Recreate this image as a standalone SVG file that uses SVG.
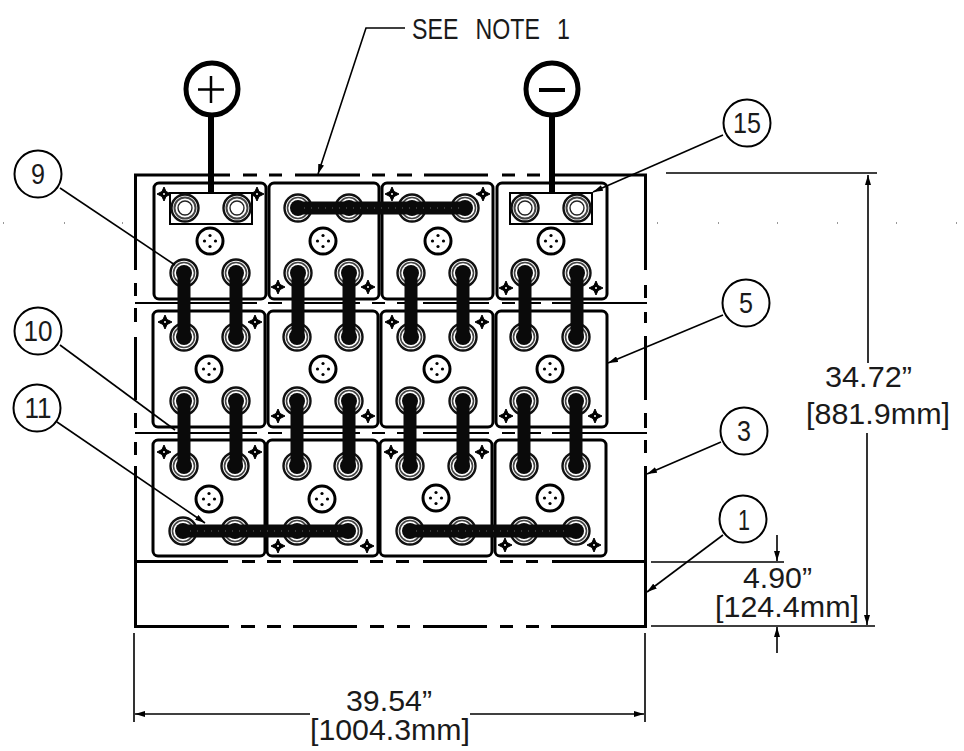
<svg xmlns="http://www.w3.org/2000/svg" xmlns:xlink="http://www.w3.org/1999/xlink" width="964" height="751" viewBox="0 0 964 751">
<style>
text{font-family:"Liberation Sans",Arial,sans-serif;fill:#1a1a1a;font-size:30px}
.n{text-anchor:middle;font-size:29px}
.frame{fill:none;stroke:#000;stroke-width:3}
.row{fill:none;stroke:#000;stroke-width:2}
.cell{fill:none;stroke:#000;stroke-width:3}
.lug{fill:#fff;stroke:#000;stroke-width:2}
.bar{fill:none;stroke:#0a0a0a;stroke-width:13;stroke-linecap:round}
.spk{fill:none;stroke:#666;stroke-width:1;stroke-dasharray:1 6}
.stem{stroke:#000;stroke-width:6;fill:none}
.ld{fill:none;stroke:#000;stroke-width:1.6}
.dim{fill:none;stroke:#000;stroke-width:1.6}
.bub{fill:#fff;stroke:#000;stroke-width:2}
.pole{fill:#fff;stroke:#000;stroke-width:5}
</style>
<defs>
<marker id="ah" viewBox="0 0 10 6" refX="10" refY="3" markerWidth="10" markerHeight="6" markerUnits="userSpaceOnUse" orient="auto-start-reverse"><path d="M0 0L10 3L0 6Z" fill="#000"/></marker>
<g id="term"><circle r="13.500" fill="#fff" stroke="#111" stroke-width="2.400"/><circle r="10.500" fill="none" stroke="#444" stroke-width="1.600"/><circle r="8" fill="#0a0a0a"/></g>
<g id="lugt"><circle r="13.500" fill="#fff" stroke="#111" stroke-width="2.400"/><circle r="10.500" fill="none" stroke="#444" stroke-width="2"/><circle r="7" fill="#fff" stroke="#222" stroke-width="1.400"/></g>
<g id="cap"><circle r="13" fill="#fff" stroke="#000" stroke-width="3"/><circle cx="0" cy="-5.500" r="1.600"/><circle cx="0" cy="5.500" r="1.600"/><circle cx="-5.500" cy="0" r="1.600"/><circle cx="5.500" cy="0" r="1.600"/></g>
<g id="st"><path d="M0-7L2-2.500L7 0L2 2.500L0 7L-2 2.500L-7 0L-2-2.500Z" fill="#000" stroke="#000" stroke-width="1"/><circle r="1" fill="#fff"/></g>
</defs>
<g id="frame">
<path class="frame" d="M135.500 270V175H230M243 175H257M269 175H282M295 175H360M372 175H385M397 175H412M424 175H488M502 175H515M527 175H540M553 175H645.500V270M645.500 285V298M645.500 312V323M645.500 336V400M645.500 413V428M645.500 440V453M645.500 466V626.500H551M539 626.500H526M513 626.500H500M487 626.500H423M410 626.500H397M384 626.500H370M357 626.500H293M281 626.500H267M255 626.500H241M229 626.500H135.500V466M135.500 455V442M135.500 428V413M135.500 400V337M135.500 322V308M135.500 296V283"/>
<path class="frame" d="M135 561.500H228M242 561.500H255M267 561.500H281M293 561.500H358M370 561.500H383M396 561.500H409M423 561.500H487M500 561.500H513M526 561.500H538M552 561.500H646"/>
<path class="row" d="M135 303H257M268 303H282M295 303H360M372 303H385M397 303H412M423 303H489M502 303H515M527 303H541M552 303H647"/>
<path class="row" d="M135 433H257M268 433H282M295 433H360M372 433H385M397 433H412M423 433H489M502 433H515M527 433H541M552 433H647"/>
</g>
<g id="cells">
<rect class="cell" x="154" y="183" width="112" height="116" rx="5"/>
<rect class="cell" x="269" y="183" width="110" height="116" rx="5"/>
<rect class="cell" x="382" y="183" width="111" height="116" rx="5"/>
<rect class="cell" x="497" y="183" width="110" height="116" rx="5"/>
<rect class="cell" x="153" y="311" width="112" height="116" rx="5"/>
<rect class="cell" x="268" y="311" width="110" height="116" rx="5"/>
<rect class="cell" x="381" y="311" width="112" height="116" rx="5"/>
<rect class="cell" x="496" y="311" width="111" height="116" rx="5"/>
<rect class="cell" x="153" y="440" width="112" height="116" rx="5"/>
<rect class="cell" x="267" y="440" width="111" height="116" rx="5"/>
<rect class="cell" x="380" y="440" width="112" height="116" rx="5"/>
<rect class="cell" x="495" y="440" width="111" height="116" rx="5"/>
</g>
<g id="caps">
<use xlink:href="#cap" href="#cap" x="210" y="241"/><use xlink:href="#cap" href="#cap" x="323" y="241"/><use xlink:href="#cap" href="#cap" x="438" y="241"/><use xlink:href="#cap" href="#cap" x="551" y="241"/>
<use xlink:href="#cap" href="#cap" x="209" y="369"/><use xlink:href="#cap" href="#cap" x="323" y="369"/><use xlink:href="#cap" href="#cap" x="437" y="369"/><use xlink:href="#cap" href="#cap" x="550" y="369"/>
<use xlink:href="#cap" href="#cap" x="209" y="499"/><use xlink:href="#cap" href="#cap" x="322" y="499"/><use xlink:href="#cap" href="#cap" x="436" y="498"/><use xlink:href="#cap" href="#cap" x="550" y="498"/>
</g>
<g id="vents">
<use xlink:href="#st" href="#st" x="164" y="194"/><use xlink:href="#st" href="#st" x="257" y="194"/><use xlink:href="#st" href="#st" x="278" y="287"/><use xlink:href="#st" href="#st" x="368" y="287"/><use xlink:href="#st" href="#st" x="392" y="194"/><use xlink:href="#st" href="#st" x="483" y="194"/><use xlink:href="#st" href="#st" x="506" y="288"/><use xlink:href="#st" href="#st" x="596" y="288"/>
<use xlink:href="#st" href="#st" x="165" y="322"/><use xlink:href="#st" href="#st" x="255" y="322"/><use xlink:href="#st" href="#st" x="278" y="416"/><use xlink:href="#st" href="#st" x="368" y="416"/><use xlink:href="#st" href="#st" x="392" y="322"/><use xlink:href="#st" href="#st" x="482" y="322"/><use xlink:href="#st" href="#st" x="506" y="416"/><use xlink:href="#st" href="#st" x="595" y="416"/>
<use xlink:href="#st" href="#st" x="164" y="452"/><use xlink:href="#st" href="#st" x="255" y="452"/><use xlink:href="#st" href="#st" x="278" y="546"/><use xlink:href="#st" href="#st" x="367" y="546"/><use xlink:href="#st" href="#st" x="391" y="452"/><use xlink:href="#st" href="#st" x="482" y="452"/><use xlink:href="#st" href="#st" x="505" y="545"/><use xlink:href="#st" href="#st" x="594" y="545"/>
</g>
<g id="lugs">
<rect class="lug" x="170" y="193" width="82" height="31"/>
<rect class="lug" x="510" y="193" width="82" height="31"/>
<use xlink:href="#lugt" href="#lugt" x="185" y="208"/><use xlink:href="#lugt" href="#lugt" x="237" y="208"/>
<use xlink:href="#lugt" href="#lugt" x="525" y="208"/><use xlink:href="#lugt" href="#lugt" x="577" y="208"/>
</g>
<g id="terminals">
<use xlink:href="#term" href="#term" x="298" y="208"/><use xlink:href="#term" href="#term" x="349" y="208"/><use xlink:href="#term" href="#term" x="412" y="208"/><use xlink:href="#term" href="#term" x="465" y="208"/>
<use xlink:href="#term" href="#term" x="184" y="273"/><use xlink:href="#term" href="#term" x="236" y="273"/><use xlink:href="#term" href="#term" x="298" y="273"/><use xlink:href="#term" href="#term" x="349" y="273"/><use xlink:href="#term" href="#term" x="411" y="273"/><use xlink:href="#term" href="#term" x="463" y="273"/><use xlink:href="#term" href="#term" x="525" y="273"/><use xlink:href="#term" href="#term" x="577" y="273"/>
<use xlink:href="#term" href="#term" x="184" y="337"/><use xlink:href="#term" href="#term" x="236" y="337"/><use xlink:href="#term" href="#term" x="297" y="337"/><use xlink:href="#term" href="#term" x="349" y="337"/><use xlink:href="#term" href="#term" x="411" y="337"/><use xlink:href="#term" href="#term" x="463" y="337"/><use xlink:href="#term" href="#term" x="524" y="337"/><use xlink:href="#term" href="#term" x="576" y="337"/>
<use xlink:href="#term" href="#term" x="184" y="401"/><use xlink:href="#term" href="#term" x="236" y="401"/><use xlink:href="#term" href="#term" x="297" y="401"/><use xlink:href="#term" href="#term" x="349" y="401"/><use xlink:href="#term" href="#term" x="410" y="401"/><use xlink:href="#term" href="#term" x="463" y="401"/><use xlink:href="#term" href="#term" x="524" y="401"/><use xlink:href="#term" href="#term" x="576" y="401"/>
<use xlink:href="#term" href="#term" x="184" y="466"/><use xlink:href="#term" href="#term" x="235" y="466"/><use xlink:href="#term" href="#term" x="297" y="466"/><use xlink:href="#term" href="#term" x="348" y="466"/><use xlink:href="#term" href="#term" x="410" y="466"/><use xlink:href="#term" href="#term" x="462" y="466"/><use xlink:href="#term" href="#term" x="524" y="466"/><use xlink:href="#term" href="#term" x="576" y="466"/>
<use xlink:href="#term" href="#term" x="183" y="531"/><use xlink:href="#term" href="#term" x="235" y="531"/><use xlink:href="#term" href="#term" x="297" y="531"/><use xlink:href="#term" href="#term" x="348" y="531"/><use xlink:href="#term" href="#term" x="410" y="531"/><use xlink:href="#term" href="#term" x="462" y="531"/><use xlink:href="#term" href="#term" x="524" y="531"/><use xlink:href="#term" href="#term" x="576" y="531"/>
</g>
<g id="connectors">
<path class="bar" d="M298 208H465M183 531H348M410 531H576"/>
<path class="spk" d="M304 208H460M190 531H342M416 531H570"/>
<path class="bar" d="M184 273V337M236 273V337M298 273V337M349 273V337M411 273V337M463 273V337M525 273V337M577 273V337"/>
<path class="bar" d="M184 401V466M236 401V466M297 401V466M349 401V466M410 401V466M463 401V466M524 401V466M576 401V466"/>
<path class="stem" d="M211 115V192M552 115V193"/>
<path class="ld" marker-end="url(#ah)" d="M405 28H366L318 174"/>
<path class="ld" d="M60 188L175 265"/>
<path class="ld" d="M60 345L175 430"/>
<path class="ld" marker-end="url(#ah)" d="M57 422L205 523"/>
<path class="ld" marker-end="url(#ah)" d="M723 135L593 192"/>
<path class="ld" marker-end="url(#ah)" d="M723 315L608 363"/>
<path class="ld" marker-end="url(#ah)" d="M721 442L647 474"/>
<path class="ld" marker-end="url(#ah)" d="M723 535L647 592"/>
</g>
<g id="dimensions">
<path class="dim" d="M666 173H877M651 562H784M651 626H875"/>
<path class="dim" marker-start="url(#ah)" d="M868 175V363"/>
<path class="dim" marker-end="url(#ah)" d="M867 433V625"/>
<path class="dim" marker-end="url(#ah)" d="M777 535V561"/>
<path class="dim" marker-end="url(#ah)" d="M777 653V627"/>
<path class="dim" d="M134 633V722M645 633V722"/>
<path class="dim" marker-start="url(#ah)" d="M135 714H310"/>
<path class="dim" marker-end="url(#ah)" d="M470 714H644"/>
<text x="825" y="387" textLength="87" lengthAdjust="spacingAndGlyphs">34.72”</text>
<text x="806" y="424" textLength="144" lengthAdjust="spacingAndGlyphs">[881.9mm]</text>
<text x="743" y="588" textLength="69" lengthAdjust="spacingAndGlyphs">4.90”</text>
<text x="715" y="617" textLength="144" lengthAdjust="spacingAndGlyphs">[124.4mm]</text>
<text x="346" y="711" textLength="86" lengthAdjust="spacingAndGlyphs">39.54”</text>
<text x="310" y="740" textLength="160" lengthAdjust="spacingAndGlyphs">[1004.3mm]</text>
</g>
<g id="note"><text x="412" y="39" textLength="158" lengthAdjust="spacingAndGlyphs" word-spacing="14">SEE NOTE 1</text></g>
<g id="pole-plus"><circle class="pole" cx="212" cy="89" r="26"/><path d="M198 89.500H224M211 76V103" stroke="#000" stroke-width="2.500" fill="none"/></g>
<g id="pole-minus"><circle class="pole" cx="552" cy="89" r="26"/><path d="M539 90H565" stroke="#000" stroke-width="4" fill="none"/></g>
<g id="callout-9"><circle class="bub" cx="38" cy="174" r="23.500"/><text class="n" x="38" y="184" textLength="14" lengthAdjust="spacingAndGlyphs">9</text></g>
<g id="callout-10"><circle class="bub" cx="38" cy="331" r="23.500"/><text class="n" x="38" y="341" textLength="29" lengthAdjust="spacingAndGlyphs">10</text></g>
<g id="callout-11"><circle class="bub" cx="37" cy="408" r="23.500"/><text class="n" x="38" y="418" textLength="27" lengthAdjust="spacingAndGlyphs">11</text></g>
<g id="callout-15"><circle class="bub" cx="747" cy="123" r="23.500"/><text class="n" x="747" y="133" textLength="28" lengthAdjust="spacingAndGlyphs">15</text></g>
<g id="callout-5"><circle class="bub" cx="746" cy="303" r="23.500"/><text class="n" x="746" y="313" textLength="14" lengthAdjust="spacingAndGlyphs">5</text></g>
<g id="callout-3"><circle class="bub" cx="744" cy="431" r="23.500"/><text class="n" x="744" y="441" textLength="14" lengthAdjust="spacingAndGlyphs">3</text></g>
<g id="callout-1"><circle class="bub" cx="743" cy="519" r="23.500"/><text class="n" x="744" y="530" textLength="12" lengthAdjust="spacingAndGlyphs">1</text></g>
<path id="specks" d="M3 223h1M64 223h1M122 223h1M657 223h1M718 223h1M777 223h1M837 223h1M896 223h1M956 223h1" stroke="#777" stroke-width="1.500" fill="none"/>
</svg>
